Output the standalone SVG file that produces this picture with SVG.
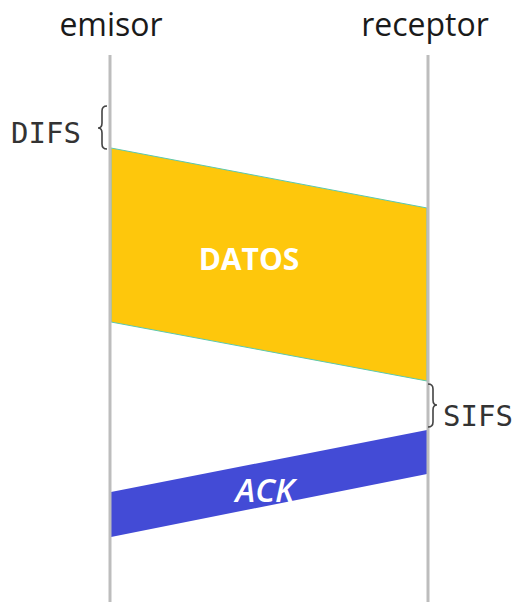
<svg xmlns="http://www.w3.org/2000/svg" width="517" height="602" viewBox="0 0 517 602">
<style>
.life{stroke:#BDBDBD;stroke-width:3;fill:none}
.hdr{font-family:"Open Sans","Liberation Sans",sans-serif;font-size:32px;fill:#1a1a1a}
.mono{font-family:"DejaVu Sans Mono","Liberation Mono",monospace;font-size:29px;fill:#333}
.brace{stroke:#444;stroke-width:1.6;fill:none}
</style>
<rect width="517" height="602" fill="#fff"/>
<g id="datos">
<polygon points="111,148 427,208 427,381 111,322" fill="#FEC70C" stroke="#5CC8B0" stroke-width="1"/>
<text x="249" y="270" text-anchor="middle" font-family="'Open Sans','Liberation Sans',sans-serif" font-weight="bold" font-size="30" fill="#fff">DATOS</text>
</g>
<g id="ack">
<polygon points="111,492 427,430 427,474 111,537" fill="#434BD6"/>
<text x="265" y="502" text-anchor="middle" font-family="'Open Sans','Liberation Sans',sans-serif" font-style="italic" font-weight="600" font-size="33" fill="#fff">ACK</text>
</g>
<g id="connectors">
<line class="life" x1="110" y1="55" x2="110" y2="602"/>
<line class="life" x1="428" y1="55" x2="428" y2="602"/>
</g>
<g id="emisor"><text class="hdr" x="111" y="36" text-anchor="middle">emisor</text></g>
<g id="receptor"><text class="hdr" x="425" y="36" text-anchor="middle">receptor</text></g>
<g id="difs">
<path class="brace" d="M107,106 q-5,0 -5,5 v12 q0,5 -4,5 q4,0 4,5 v11 q0,5 5,5"/>
<text class="mono" x="11" y="143">DIFS</text>
</g>
<g id="sifs">
<path class="brace" d="M428,384 q5,0 5,5 v11 q0,5 4,5 q-4,0 -4,5 v12 q0,5 -5,5"/>
<text class="mono" x="443" y="426">SIFS</text>
</g>
</svg>
